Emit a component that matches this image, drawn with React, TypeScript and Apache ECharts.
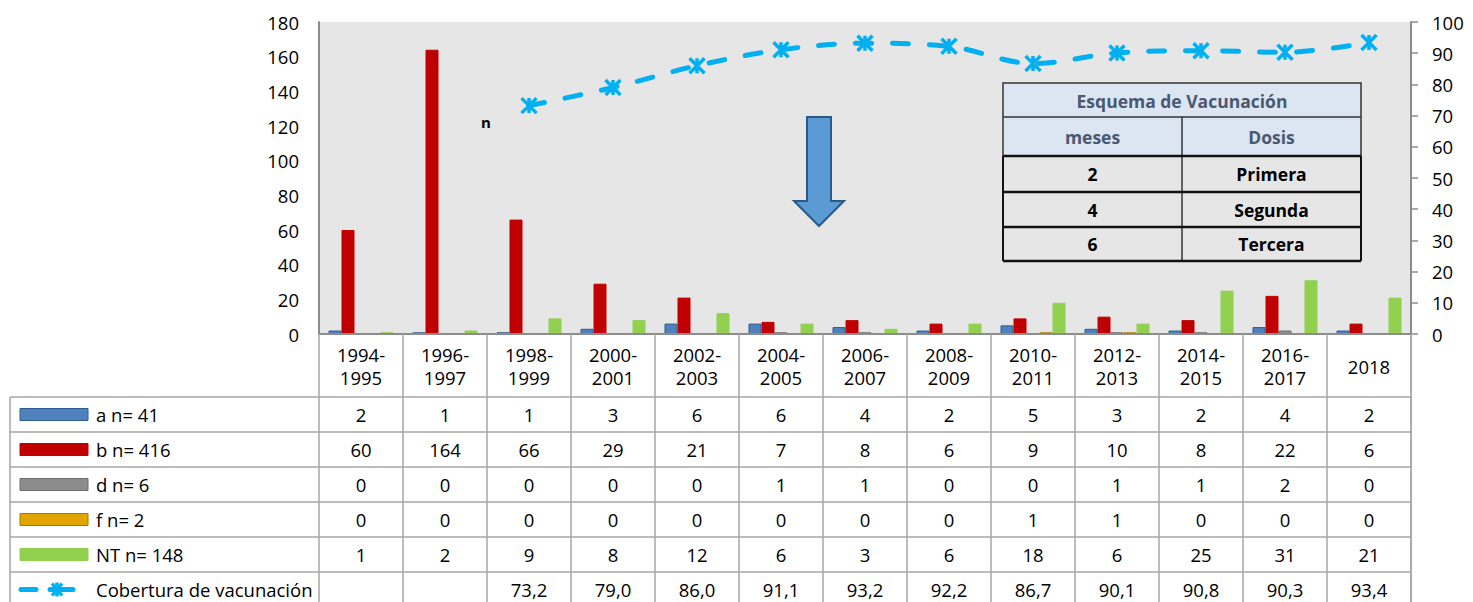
import React, { useEffect, useRef } from 'react';
import * as echarts from 'echarts';

const categories = ['1994-\n1995', '1996-\n1997', '1998-\n1999', '2000-\n2001', '2002-\n2003', '2004-\n2005', '2006-\n2007', '2008-\n2009', '2010-\n2011', '2012-\n2013', '2014-\n2015', '2016-\n2017', '2018'];
const seriesA = [2, 1, 1, 3, 6, 6, 4, 2, 5, 3, 2, 4, 2];
const seriesB = [60, 164, 66, 29, 21, 7, 8, 6, 9, 10, 8, 22, 6];
const seriesD = [0, 0, 0, 0, 0, 1, 1, 0, 0, 1, 1, 2, 0];
const seriesF = [0, 0, 0, 0, 0, 0, 0, 0, 1, 1, 0, 0, 0];
const seriesNT = [1, 2, 9, 8, 12, 6, 3, 6, 18, 6, 25, 31, 21];
const cobertura: (number | null)[] = [null, null, 73.2, 79.0, 86.0, 91.1, 93.2, 92.2, 86.7, 90.1, 90.8, 90.3, 93.4];
const seriesNames = ['a n= 41', 'b n= 416', 'd n= 6', 'f n= 2', 'NT n= 148'];
const lineName = 'Cobertura de vacunación';
const schemeTitle = 'Esquema de Vacunación';
const schemeHeader = ['meses', 'Dosis'];
const schemeRows = [['2', 'Primera'], ['4', 'Segunda'], ['6', 'Tercera']];

const FONT = '"Open Sans", "Liberation Sans", sans-serif';
const FS = 18.5;
const barColors = ['#4F81BD', '#C00000', '#8C8C8C', '#E2A500', '#92D050'];
const barBorders = ['#2F5C8F', '#C00000', '#6E6E6E', '#A67C00', '#92D050'];
const LINE_COLOR = '#00B0F0';
const STAR = 'path://M0,0L16,16M16,0L0,16M8,0L8,16';

export default function App() {
  const ref = useRef<HTMLDivElement>(null);
  useEffect(() => {
    if (!ref.current) return;
    const chart = echarts.init(ref.current, null, { renderer: 'svg' });
    const barData = [seriesA, seriesB, seriesD, seriesF, seriesNT];
    const option: any = {
      animation: false,
      textStyle: { fontFamily: FONT },
      grid: { left: 319, top: 22, width: 1092, height: 312, show: true, backgroundColor: '#E6E6E6', borderWidth: 0 },
      xAxis: {
        type: 'category',
        data: categories,
        axisLine: { show: true, lineStyle: { color: '#8C8C8C', width: 2 } },
        axisTick: { show: true, length: 270, lineStyle: { color: '#A6A6A6', width: 1.5 } },
        axisLabel: { fontSize: FS, color: '#000', lineHeight: 23, margin: 32, verticalAlign: 'middle', fontFamily: FONT },
        z: 5,
      },
      yAxis: [
        {
          type: 'value', min: 0, max: 180, interval: 20,
          axisLine: { show: true, lineStyle: { color: '#8C8C8C', width: 2 } },
          axisTick: { show: false },
          splitLine: { show: false },
          axisLabel: { fontSize: FS, color: '#000', margin: 20, fontFamily: FONT },
        },
        {
          type: 'value', min: 0, max: 100, interval: 10, position: 'right',
          axisLine: { show: true, lineStyle: { color: '#8C8C8C', width: 2 } },
          axisTick: { show: true, length: 7, lineStyle: { color: '#8C8C8C', width: 1.5 } },
          splitLine: { show: false },
          axisLabel: { fontSize: FS, color: '#000', margin: 21, fontFamily: FONT },
        },
      ],
      series: [
        ...barData.map((d, i) => ({
          name: seriesNames[i],
          type: 'bar',
          data: d,
          barWidth: 13,
          barGap: '0%',
          itemStyle: { color: barColors[i], borderColor: barBorders[i], borderWidth: 1 },
        })),
        {
          name: lineName,
          type: 'line',
          yAxisIndex: 1,
          data: cobertura,
          smooth: 0.35,
          symbol: STAR,
          symbolSize: 15,
          lineStyle: { color: LINE_COLOR, width: 5, type: [16, 21], cap: 'round' },
          itemStyle: { color: LINE_COLOR, borderColor: LINE_COLOR, borderWidth: 3.5 },
          z: 10,
        },
      ],
    };
    chart.setOption(option);

    const xs = categories.map((_, i) => chart.convertToPixel({ xAxisIndex: 0 }, i) as number);
    const rightX = 1411;
    const rowLines = [397, 432, 467, 502, 537, 572];
    const rowCenters = [414.5, 449.5, 484.5, 519.5, 554.5, 589.5];
    const g: any[] = [];
    rowLines.forEach((y) => {
      g.push({ type: 'line', shape: { x1: 10, y1: y, x2: rightX, y2: y }, style: { stroke: '#A6A6A6', lineWidth: 1.5 }, z: 20 });
    });
    g.push({ type: 'line', shape: { x1: 10, y1: 397, x2: 10, y2: 602 }, style: { stroke: '#A6A6A6', lineWidth: 1.5 }, z: 20 });
    g.push({ type: 'line', shape: { x1: rightX, y1: 334, x2: rightX, y2: 602 }, style: { stroke: '#A6A6A6', lineWidth: 1.5 }, z: 20 });

    const tableRows: (number | null)[][] = [...barData, cobertura];
    tableRows.forEach((row, r) => {
      row.forEach((v, i) => {
        if (v === null) return;
        const txt = r === 5 ? (v as number).toFixed(1).replace('.', ',') : String(v);
        g.push({ type: 'text', x: xs[i], y: rowCenters[r], style: { text: txt, fontSize: FS, fill: '#000', align: 'center', verticalAlign: 'middle', fontFamily: FONT }, z: 20 });
      });
    });
    // legend column
    seriesNames.forEach((name, i) => {
      g.push({ type: 'rect', shape: { x: 20, y: rowCenters[i] - 6, width: 68, height: 12 }, style: { fill: barColors[i], stroke: barBorders[i], lineWidth: 1 }, z: 20 });
      g.push({ type: 'text', x: 96, y: rowCenters[i], style: { text: name, fontSize: FS, fill: '#000', align: 'left', verticalAlign: 'middle', fontFamily: FONT }, z: 20 });
    });
    const ly = rowCenters[5];
    g.push({ type: 'line', shape: { x1: 21, y1: ly, x2: 36, y2: ly }, style: { stroke: LINE_COLOR, lineWidth: 5, lineCap: 'round' }, z: 20 });
    g.push({ type: 'line', shape: { x1: 50, y1: ly, x2: 73, y2: ly }, style: { stroke: LINE_COLOR, lineWidth: 5, lineCap: 'round' }, z: 20 });
    g.push({ type: 'line', shape: { x1: 52, y1: ly - 6, x2: 62, y2: ly + 6 }, style: { stroke: LINE_COLOR, lineWidth: 3.5 }, z: 20 });
    g.push({ type: 'line', shape: { x1: 62, y1: ly - 6, x2: 52, y2: ly + 6 }, style: { stroke: LINE_COLOR, lineWidth: 3.5 }, z: 20 });
    g.push({ type: 'line', shape: { x1: 57, y1: ly - 7, x2: 57, y2: ly + 7 }, style: { stroke: LINE_COLOR, lineWidth: 3.5 }, z: 20 });
    g.push({ type: 'text', x: 96, y: ly, style: { text: lineName, fontSize: FS, fill: '#000', align: 'left', verticalAlign: 'middle', fontFamily: FONT }, z: 20 });

    // "n" annotation
    g.push({ type: 'text', x: 486, y: 122, style: { text: 'n', fontSize: 15, fontWeight: 'bold', fill: '#000', align: 'center', verticalAlign: 'middle', fontFamily: FONT }, z: 20 });

    // arrow
    g.push({
      type: 'polygon',
      shape: { points: [[807, 117], [831, 117], [831, 201], [844, 201], [819, 226], [794, 201], [807, 201]] },
      style: { fill: '#5B9BD5', stroke: '#2B5A86', lineWidth: 2 },
      z: 20,
    });

    // inset table
    const tL = 1003, tR = 1361, tMid = 1182;
    const hY = [83, 117, 156, 192, 227, 261];
    g.push({ type: 'rect', shape: { x: tL, y: hY[0], width: tR - tL, height: hY[2] - hY[0] }, style: { fill: '#DCE6F2', stroke: '#333', lineWidth: 1.5 }, z: 30 });
    g.push({ type: 'line', shape: { x1: tL, y1: hY[1], x2: tR, y2: hY[1] }, style: { stroke: '#333', lineWidth: 1.5 }, z: 31 });
    g.push({ type: 'line', shape: { x1: tMid, y1: hY[1], x2: tMid, y2: hY[5] }, style: { stroke: '#333', lineWidth: 1.5 }, z: 31 });
    [2, 3, 4, 5].forEach((k) => {
      g.push({ type: 'line', shape: { x1: tL, y1: hY[k], x2: tR, y2: hY[k] }, style: { stroke: '#111', lineWidth: 2.5 }, z: 31 });
    });
    g.push({ type: 'line', shape: { x1: tL, y1: hY[2], x2: tL, y2: hY[5] }, style: { stroke: '#111', lineWidth: 2 }, z: 31 });
    g.push({ type: 'line', shape: { x1: tR, y1: hY[2], x2: tR, y2: hY[5] }, style: { stroke: '#111', lineWidth: 2 }, z: 31 });
    const tTextStyle = { fontSize: 17.5, fontWeight: 'bold', align: 'center', verticalAlign: 'middle', fontFamily: FONT };
    g.push({ type: 'text', x: (tL + tR) / 2, y: (hY[0] + hY[1]) / 2 + 1, style: { ...tTextStyle, text: schemeTitle, fill: '#4A5872' }, z: 32 });
    g.push({ type: 'text', x: (tL + tMid) / 2, y: (hY[1] + hY[2]) / 2, style: { ...tTextStyle, text: schemeHeader[0], fill: '#4A5872' }, z: 32 });
    g.push({ type: 'text', x: (tMid + tR) / 2, y: (hY[1] + hY[2]) / 2, style: { ...tTextStyle, text: schemeHeader[1], fill: '#4A5872' }, z: 32 });
    schemeRows.forEach((row, k) => {
      const cy = (hY[k + 2] + hY[k + 3]) / 2;
      g.push({ type: 'text', x: (tL + tMid) / 2, y: cy, style: { ...tTextStyle, text: row[0], fill: '#000' }, z: 32 });
      g.push({ type: 'text', x: (tMid + tR) / 2, y: cy, style: { ...tTextStyle, text: row[1], fill: '#000' }, z: 32 });
    });

    chart.setOption({ graphic: g });
    return () => chart.dispose();
  }, []);
  return <div ref={ref} style={{ position: 'fixed', left: 0, top: 0, width: 1473, height: 602, background: '#fff' }} />;
}
